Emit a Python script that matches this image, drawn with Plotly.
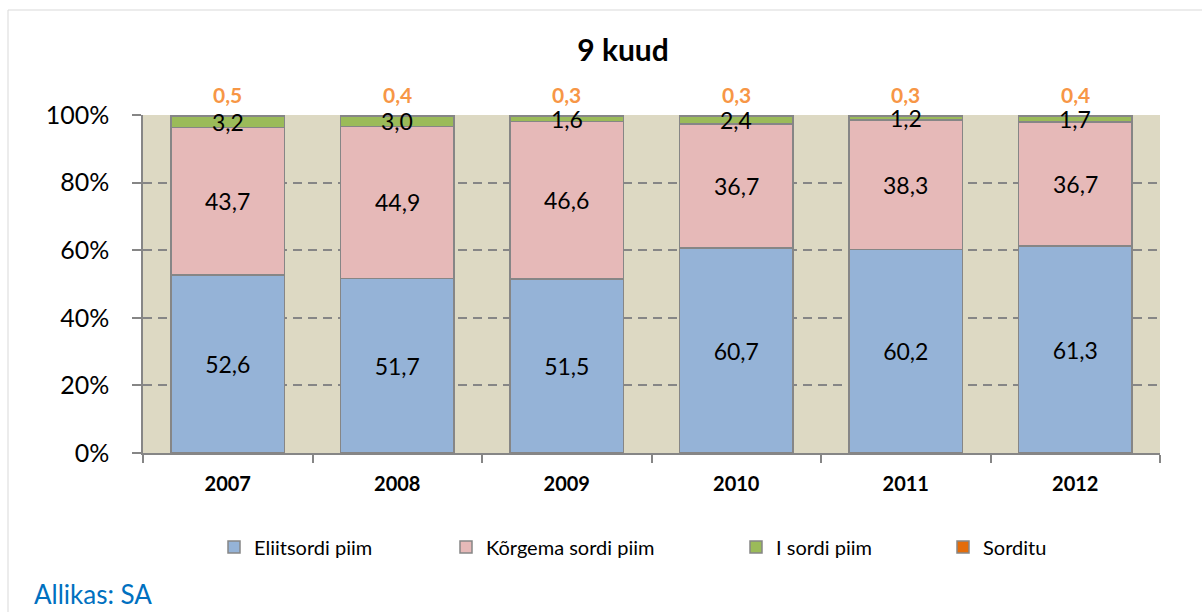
import plotly.graph_objects as go

years = ["2007", "2008", "2009", "2010", "2011", "2012"]
eliit = [52.6, 51.7, 51.5, 60.7, 60.2, 61.3]
korgema = [43.7, 44.9, 46.6, 36.7, 38.3, 36.7]
isordi = [3.2, 3.0, 1.6, 2.4, 1.2, 1.7]
sorditu = [0.5, 0.4, 0.3, 0.3, 0.3, 0.4]

series = [
    ("Eliitsordi piim", eliit, "#95B3D7"),
    ("Kõrgema sordi piim", korgema, "#E6B9B8"),
    ("I sordi piim", isordi, "#9BBB59"),
    ("Sorditu", sorditu, "#E46C0A"),
]

FONT = "Lato"

def fmt(v):
    return f"{v:.1f}".replace(".", ",")

# plot area geometry (px)
L, R, T, B = 143, 42, 115, 159
W, H = 1202, 612
PW = W - L - R
PH = H - T - B

def px_x(x):
    return (x - L) / PW

def px_y(y):
    return (H - B - y) / PH

legend_pos = [228, 460, 750, 957]

fig = go.Figure()
for i, (name, vals, col) in enumerate(series):
    lg = "legend" if i == 0 else f"legend{i+1}"
    fig.add_trace(go.Bar(
        x=years, y=vals, name=name,
        marker=dict(color=col, line=dict(color="#868686", width=1.5)),
        text=[fmt(v) for v in vals] if i == 0 else None,
        textposition="inside" if i == 0 else "none",
        insidetextanchor="middle",
        textfont=dict(family=FONT, size=23, color="black"),
        legend=lg,
        hoverinfo="skip",
    ))

annotations = []
for j, yr in enumerate(years):
    s = eliit[j] + korgema[j] + isordi[j] + sorditu[j]
    lo = eliit[j] / s * 100
    hi = (eliit[j] + korgema[j]) / s * 100
    annotations.append(dict(x=j, y=(lo + hi) / 2, text=fmt(korgema[j]), showarrow=False,
                            font=dict(family=FONT, size=23, color="black")))
    hi2 = (eliit[j] + korgema[j] + isordi[j]) / s * 100
    annotations.append(dict(x=j, y=(hi + hi2) / 2, text=fmt(isordi[j]), showarrow=False,
                            font=dict(family=FONT, size=23, color="black")))
    annotations.append(dict(x=j, y=100, text="<b>" + fmt(sorditu[j]) + "</b>", showarrow=False,
                            yshift=21, font=dict(family=FONT, size=21, color="#F79646")))

annotations.append(dict(xref="paper", yref="paper", x=px_x(32), y=px_y(594), xanchor="left",
                        yanchor="middle", text="Allikas: SA", showarrow=False,
                        font=dict(family=FONT, size=26, color="#0070C0")))

legends = {}
for i, xp in enumerate(legend_pos):
    key = "legend" if i == 0 else f"legend{i+1}"
    legends[key] = dict(x=px_x(xp - 14), y=px_y(547), xanchor="left", yanchor="middle",
                        orientation="h", bgcolor="rgba(0,0,0,0)",
                        font=dict(family=FONT, size=20, color="black"))

fig.update_layout(
    width=W, height=H,
    margin=dict(l=L, r=R, t=T, b=B),
    barmode="stack", barnorm="percent", bargap=0.333,
    plot_bgcolor="#DDD9C3", paper_bgcolor="white",
    font=dict(family=FONT, color="black"),
    title=dict(text="<b>9 kuud</b>", xref="container", yref="container",
               x=623 / W, y=1 - 50 / H, xanchor="center", yanchor="middle",
               font=dict(family=FONT, size=30, color="black")),
    annotations=annotations,
    showlegend=True,
    shapes=[dict(type="rect", xref="paper", yref="paper",
                 x0=px_x(8), x1=px_x(1215), y0=px_y(625), y1=px_y(10),
                 line=dict(color="#D9D9D9", width=1), fillcolor="rgba(0,0,0,0)", layer="below")],
    **legends,
)

fig.update_xaxes(
    type="category", categoryorder="array", categoryarray=years,
    range=[-0.5, len(years) - 0.5], autorange=False,
    showline=True, linecolor="#868686", linewidth=1.5,
    ticks="outside", tickson="boundaries", ticklen=8, tickcolor="#868686", tickwidth=1.5,
    tickfont=dict(family=FONT, size=20, color="black"),
    tickprefix="<b>", ticksuffix="</b>", ticklabelstandoff=12,
    showgrid=False,
)
fig.update_yaxes(
    range=[0, 100], autorange=False, tickmode="array", tickvals=[0, 20, 40, 60, 80, 100],
    ticktext=["0%", "20%", "40%", "60%", "80%", "100%"],
    showline=True, linecolor="#868686", linewidth=1.5,
    ticks="outside", ticklen=9, tickcolor="#868686", tickwidth=1.5,
    showgrid=True, gridcolor="#868686", gridwidth=1.5, griddash="9px,6px",
    zeroline=False,
    tickfont=dict(family=FONT, size=25, color="black"), ticklabelstandoff=18,
)

fig.write_html("out.html", config={"displayModeBar": False},
               post_script="document.body.style.margin='0px';")
